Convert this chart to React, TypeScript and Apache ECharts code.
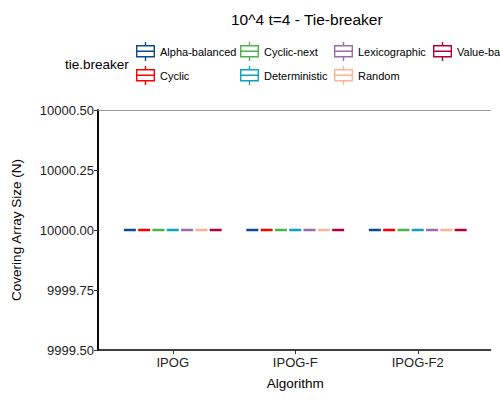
import React, { useEffect, useRef } from "react";
import * as echarts from "echarts";

const algorithms = ["IPOG", "IPOG-F", "IPOG-F2"];
const tieBreakers = [
  "Alpha-balanced",
  "Cyclic",
  "Cyclic-next",
  "Deterministic",
  "Lexicographic",
  "Random",
  "Value-balanced",
];
const colors = ["#0b4a8b", "#ff0000", "#4bb446", "#119fbf", "#9a6bad", "#fdb394", "#b30034"];
// Covering array size (N) per algorithm, one array per tie-breaker (all runs identical)
const alphaBalanced = [10000, 10000, 10000];
const cyclic = [10000, 10000, 10000];
const cyclicNext = [10000, 10000, 10000];
const deterministic = [10000, 10000, 10000];
const lexicographic = [10000, 10000, 10000];
const random = [10000, 10000, 10000];
const valueBalanced = [10000, 10000, 10000];
const seriesValues = [alphaBalanced, cyclic, cyclicNext, deterministic, lexicographic, random, valueBalanced];
const yTicks = [9999.5, 9999.75, 10000, 10000.25, 10000.5];

const FONT = "'Liberation Sans', Arial, sans-serif";
const ICON =
  "path://M0 3h19v1.4h-19Z M0 14.1h19v1.4h-19Z M0 3h1.4v12.5h-1.4Z M17.6 3h1.4v12.5h-1.4Z M0 8.55h19v1.4h-19Z M8.8 0h1.4v3h-1.4Z M8.8 15.5h1.4v3.5h-1.4Z";

export default function App() {
  const ref = useRef<HTMLDivElement>(null);
  useEffect(() => {
    if (!ref.current) return;
    const chart = echarts.init(ref.current, undefined, { renderer: "svg" });
    const legendCols = [
      { left: 136, items: [0, 1] },
      { left: 240, items: [2, 3] },
      { left: 334, items: [4, 5] },
      { left: 433, items: [6] },
    ];
    const option: any = {
      animation: false,
      textStyle: { fontFamily: FONT },
      title: [
        {
          text: "10^4 t=4 - Tie-breaker",
          left: 226,
          top: 6,
          textStyle: { fontSize: 15.5, fontWeight: "normal", color: "#000", fontFamily: FONT },
        },
        {
          text: "tie.breaker",
          left: 60,
          top: 52,
          textStyle: { fontSize: 13.5, fontWeight: "normal", color: "#000", fontFamily: FONT },
        },
      ],
      legend: legendCols.map((c) => ({
        orient: "vertical",
        left: c.left,
        top: 42,
        padding: 0,
        itemWidth: 19,
        itemHeight: 19,
        itemGap: 5,
        selectedMode: false,
        textStyle: { fontSize: 11, color: "#000", fontFamily: FONT },
        data: c.items.map((i) => ({
          name: tieBreakers[i],
          icon: ICON,
          itemStyle: { color: colors[i], borderWidth: 0, borderColor: colors[i] },
        })),
      })),
      grid: [
        { left: 111.5, top: 110, width: 367.5, height: 240, show: false },
        { left: 98, top: 110, width: 392.5, height: 240, show: false },
      ],
      xAxis: [
        {
          type: "category",
          gridIndex: 0,
          data: algorithms,
          axisLine: { show: false },
          axisTick: { show: true, alignWithLabel: true, length: 4, lineStyle: { color: "#333" } },
          axisLabel: { fontSize: 13, color: "#222", margin: 6, fontFamily: FONT },
          name: "Algorithm",
          nameLocation: "middle",
          nameGap: 26,
          nameTextStyle: { fontSize: 13.5, color: "#000", fontFamily: FONT },
        },
        {
          type: "value",
          gridIndex: 1,
          position: "bottom",
          min: 0,
          max: 1,
          axisLine: { show: true, lineStyle: { color: "#000", width: 1.6 } },
          axisTick: { show: false },
          axisLabel: { show: false },
          splitLine: { show: false },
        },
        {
          type: "value",
          gridIndex: 1,
          position: "top",
          min: 0,
          max: 1,
          axisLine: { show: true, lineStyle: { color: "#9a9a9a", width: 1 } },
          axisTick: { show: false },
          axisLabel: { show: false },
          splitLine: { show: false },
        },
      ],
      yAxis: [
        {
          type: "value",
          gridIndex: 0,
          min: 9999.5,
          max: 10000.5,
          show: false,
        },
        {
          type: "value",
          gridIndex: 1,
          position: "left",
          min: 9999.5,
          max: 10000.5,
          interval: 0.25,
          axisLine: { show: true, lineStyle: { color: "#000", width: 1.6 } },
          axisTick: { show: true, length: 4, lineStyle: { color: "#333" } },
          axisLabel: {
            fontSize: 13,
            color: "#222",
            margin: 4,
            fontFamily: FONT,
            formatter: (v: number) => (yTicks.includes(v) ? v.toFixed(2) : ""),
          },
          splitLine: { show: false },
          name: "Covering Array Size (N)",
          nameLocation: "middle",
          nameGap: 75,
          nameTextStyle: { fontSize: 13.5, color: "#000", fontFamily: FONT },
        },
        {
          type: "value",
          gridIndex: 1,
          position: "right",
          min: 9999.5,
          max: 10000.5,
          axisLine: { show: true, lineStyle: { color: "#000", width: 1.6 } },
          axisTick: { show: false },
          axisLabel: { show: false },
          splitLine: { show: false },
        },
      ],
      series: tieBreakers.map((name, i) => ({
        type: "boxplot",
        name,
        xAxisIndex: 0,
        yAxisIndex: 0,
        boxWidth: [12, 12],
        itemStyle: { color: "#fff", borderColor: colors[i], borderWidth: 2.6 },
        emphasis: { disabled: true },
        data: seriesValues[i].map((v) => [v, v, v, v, v]),
      })),
    };
    chart.setOption(option);
    return () => chart.dispose();
  }, []);
  return (
    <div
      ref={ref}
      style={{ position: "absolute", left: 0, top: 0, width: 500, height: 400 }}
    />
  );
}
